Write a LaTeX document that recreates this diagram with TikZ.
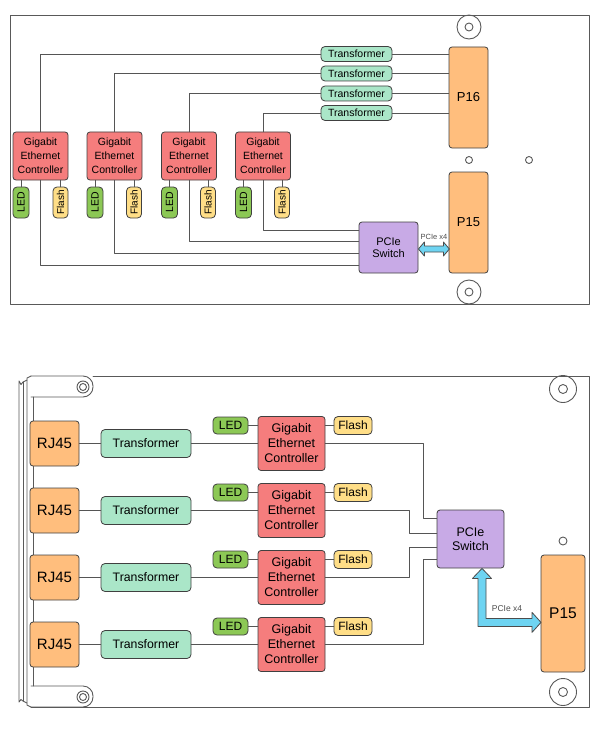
\documentclass[tikz,border=0pt]{standalone}
\usepackage{fontspec}
\setmainfont{Liberation Sans}
\definecolor{ctrlred}{RGB}{245,125,125}
\definecolor{ledgreen}{RGB}{140,200,85}
\definecolor{flashyellow}{RGB}{255,222,135}
\definecolor{trafogreen}{RGB}{170,230,200}
\definecolor{connorange}{RGB}{255,190,125}
\definecolor{switchpurple}{RGB}{200,170,230}
\definecolor{pciecyan}{RGB}{110,212,242}
\definecolor{wiregrey}{RGB}{85,85,85}
\begin{document}
\begin{tikzpicture}[x=1pt,y=-1pt,line join=round, line cap=round,
	wire/.style={draw=wiregrey, line width=0.9pt},
	board/.style={draw=black!65, line width=0.9pt},
	box/.style={draw=black!75, line width=0.8pt, rounded corners=3pt, align=center, inner sep=0pt},
	ctrl/.style={box, fill=ctrlred, minimum width=55pt, minimum height=48pt, font=\fontsize{10.5}{14}\selectfont},
	ctrlb/.style={box, fill=ctrlred, minimum width=67pt, minimum height=54pt, font=\fontsize{12.5}{15}\selectfont},
	led/.style={box, fill=ledgreen, rounded corners=4pt},
	flash/.style={box, fill=flashyellow, rounded corners=4pt},
	trafo/.style={box, fill=trafogreen, rounded corners=4pt},
	conn/.style={box, fill=connorange},
	switch/.style={box, fill=switchpurple},
	pcie/.style={draw=black!70, fill=pciecyan, line width=0.8pt},
	lbl/.style={text=black!70, inner sep=0pt}]
	\useasboundingbox (0,0) rectangle (605,749);
	% upper board
	\draw[board] (10,15) rectangle (589,304);
	\draw[board] (469,27) circle (12pt) (469,27) circle (4pt);
	\draw[board] (469,292) circle (12pt) (469,292) circle (4pt);
	\draw[board] (469,160) circle (3.5pt);
	\draw[board] (529,160) circle (3.5pt);
	\node[conn, minimum width=39pt, minimum height=101pt, font=\fontsize{13}{15}\selectfont] (PA) at (468.5,97.5) {P16};
	\node[conn, minimum width=39pt, minimum height=101pt, font=\fontsize{13}{15}\selectfont] (PB) at (468.5,222.5) {P15};
	\node[switch, minimum width=59pt, minimum height=51pt, font=\fontsize{11}{12}\selectfont] (SW) at (388.5,247.5) {PCIe\\Switch};
	\node[trafo, minimum width=71pt, minimum height=15pt, font=\fontsize{10.5}{12}\selectfont] (T1) at (356.5,54) {Transformer};
	\node[trafo, minimum width=71pt, minimum height=15pt, font=\fontsize{10.5}{12}\selectfont] (T2) at (356.5,73.5) {Transformer};
	\node[trafo, minimum width=71pt, minimum height=15pt, font=\fontsize{10.5}{12}\selectfont] (T3) at (356.5,93.5) {Transformer};
	\node[trafo, minimum width=71pt, minimum height=15pt, font=\fontsize{10.5}{12}\selectfont] (T4) at (356.5,113) {Transformer};
	\node[ctrl] (C1) at (40.5,156) {Gigabit\\Ethernet\\Controller};
	\node[ctrl] (C2) at (114.5,156) {Gigabit\\Ethernet\\Controller};
	\node[ctrl] (C3) at (189,156) {Gigabit\\Ethernet\\Controller};
	\node[ctrl] (C4) at (263,156) {Gigabit\\Ethernet\\Controller};
	\node[led, minimum width=16pt, minimum height=31pt, font=\fontsize{10.5}{12}\selectfont] (L1) at (21,202.5) {\rotatebox{90}{LED}};
	\node[led, minimum width=16pt, minimum height=31pt, font=\fontsize{10.5}{12}\selectfont] (L2) at (95,202.5) {\rotatebox{90}{LED}};
	\node[led, minimum width=16pt, minimum height=31pt, font=\fontsize{10.5}{12}\selectfont] (L3) at (169.5,202.5) {\rotatebox{90}{LED}};
	\node[led, minimum width=16pt, minimum height=31pt, font=\fontsize{10.5}{12}\selectfont] (L4) at (243.5,202.5) {\rotatebox{90}{LED}};
	\node[flash, minimum width=15pt, minimum height=31pt, font=\fontsize{10}{12}\selectfont] (F1) at (60.5,202.5) {\rotatebox{90}{Flash}};
	\node[flash, minimum width=15pt, minimum height=31pt, font=\fontsize{10}{12}\selectfont] (F2) at (134,202.5) {\rotatebox{90}{Flash}};
	\node[flash, minimum width=15pt, minimum height=31pt, font=\fontsize{10}{12}\selectfont] (F3) at (208,202.5) {\rotatebox{90}{Flash}};
	\node[flash, minimum width=15pt, minimum height=31pt, font=\fontsize{10}{12}\selectfont] (F4) at (282,202.5) {\rotatebox{90}{Flash}};
	\draw[wire] (C1.north) |- (T1.west);
	\draw[wire] (C2.north) |- (T2.west);
	\draw[wire] (C3.north) |- (T3.west);
	\draw[wire] (C4.north) |- (T4.west);
	\draw[wire] (T1.east) -- (T1.east -| PA.west);
	\draw[wire] (T2.east) -- (T2.east -| PA.west);
	\draw[wire] (T3.east) -- (T3.east -| PA.west);
	\draw[wire] (T4.east) -- (T4.east -| PA.west);
	\draw[wire] (L1.north) -- (L1.north |- C1.south);
	\draw[wire] (L2.north) -- (L2.north |- C2.south);
	\draw[wire] (L3.north) -- (L3.north |- C3.south);
	\draw[wire] (L4.north) -- (L4.north |- C4.south);
	\draw[wire] (F1.north) -- (F1.north |- C1.south);
	\draw[wire] (F2.north) -- (F2.north |- C2.south);
	\draw[wire] (F3.north) -- (F3.north |- C3.south);
	\draw[wire] (F4.north) -- (F4.north |- C4.south);
	\draw[wire] (C1.south) |- ([yshift=-17.5pt]SW.west);
	\draw[wire] (C2.south) |- ([yshift=-5.5pt]SW.west);
	\draw[wire] (C3.south) |- ([yshift=6.5pt]SW.west);
	\draw[wire] (C4.south) |- ([yshift=17.5pt]SW.west);
	\draw[pcie] ([yshift=-1.5pt]SW.east) -- ++(6,-7) -- ++(0,4) -- ++(19,0) -- ++(0,-4) -- ++(6,7) -- ++(-6,7) -- ++(0,-4) -- ++(-19,0) -- ++(0,4) -- cycle;
	\node[lbl, font=\fontsize{7.5}{9}\selectfont] (X4a) at (434,237) {PCIe x4};
	% lower board
	\draw[board] (93,376) -- (589,376) -- (589,707) -- (31,707);
	\draw[board, rounded corners=10pt] (31,376) -- (93,376) -- (93,397) -- (31,397);
	\draw[board, rounded corners=10pt] (31,686) -- (93,686) -- (93,707) -- (31,707);
	\draw[board] (33,397) -- (33,686);
	\draw[board] (31,376) -- (27,378) -- (27,705) -- (31,707);
	\draw[board] (27,380) -- (23,382) -- (21,384.5) -- (19,381) -- (19,702) -- (21,699.5) -- (23,701) -- (27,703);
	\draw[board] (23,382) -- (23,701);
	\draw[board] (83,387) circle (6pt) (83,387) circle (3.5pt);
	\draw[board] (83,697) circle (6pt) (83,697) circle (3.5pt);
	\draw[board] (563,389) circle (13.5pt) (563,389) circle (4.5pt);
	\draw[board] (563,692) circle (13.5pt) (563,692) circle (4.5pt);
	\draw[board] (563,541) circle (4pt);
	\node[conn, minimum width=44pt, minimum height=117pt, font=\fontsize{15.5}{18}\selectfont] (PC) at (563,613.5) {P15};
	\node[switch, minimum width=67pt, minimum height=58pt, font=\fontsize{12.5}{14}\selectfont] (SWb) at (470.5,539) {PCIe\\Switch};
	\node[conn, minimum width=49pt, minimum height=45pt, font=\fontsize{15}{18}\selectfont] (J1) at (54.5,443.5) {RJ45};
	\node[conn, minimum width=49pt, minimum height=45pt, font=\fontsize{15}{18}\selectfont] (J2) at (54.5,510.5) {RJ45};
	\node[conn, minimum width=49pt, minimum height=45pt, font=\fontsize{15}{18}\selectfont] (J3) at (54.5,577.5) {RJ45};
	\node[conn, minimum width=49pt, minimum height=45pt, font=\fontsize{15}{18}\selectfont] (J4) at (54.5,644.5) {RJ45};
	\node[trafo, minimum width=90pt, minimum height=28pt, font=\fontsize{12.3}{14}\selectfont] (X1) at (146,443.5) {Transformer};
	\node[trafo, minimum width=90pt, minimum height=28pt, font=\fontsize{12.3}{14}\selectfont] (X2) at (146,510.5) {Transformer};
	\node[trafo, minimum width=90pt, minimum height=28pt, font=\fontsize{12.3}{14}\selectfont] (X3) at (146,577.5) {Transformer};
	\node[trafo, minimum width=90pt, minimum height=28pt, font=\fontsize{12.3}{14}\selectfont] (X4) at (146,644.5) {Transformer};
	\node[ctrlb] (G1) at (291.5,443.5) {Gigabit\\Ethernet\\Controller};
	\node[ctrlb] (G2) at (291.5,510.5) {Gigabit\\Ethernet\\Controller};
	\node[ctrlb] (G3) at (291.5,577.5) {Gigabit\\Ethernet\\Controller};
	\node[ctrlb] (G4) at (291.5,644.5) {Gigabit\\Ethernet\\Controller};
	\node[led, minimum width=35pt, minimum height=17pt, font=\fontsize{12}{14}\selectfont] (E1) at (230.5,425.5) {LED};
	\node[led, minimum width=35pt, minimum height=17pt, font=\fontsize{12}{14}\selectfont] (E2) at (230.5,492.5) {LED};
	\node[led, minimum width=35pt, minimum height=17pt, font=\fontsize{12}{14}\selectfont] (E3) at (230.5,559.5) {LED};
	\node[led, minimum width=35pt, minimum height=17pt, font=\fontsize{12}{14}\selectfont] (E4) at (230.5,626.5) {LED};
	\node[flash, minimum width=38pt, minimum height=18pt, font=\fontsize{12}{14}\selectfont] (H1) at (353,425.5) {Flash};
	\node[flash, minimum width=38pt, minimum height=18pt, font=\fontsize{12}{14}\selectfont] (H2) at (353,492.5) {Flash};
	\node[flash, minimum width=38pt, minimum height=18pt, font=\fontsize{12}{14}\selectfont] (H3) at (353,559.5) {Flash};
	\node[flash, minimum width=38pt, minimum height=18pt, font=\fontsize{12}{14}\selectfont] (H4) at (353,626.5) {Flash};
	\draw[wire] (J1.east) -- (X1.west);
	\draw[wire] (J2.east) -- (X2.west);
	\draw[wire] (J3.east) -- (X3.west);
	\draw[wire] (J4.east) -- (X4.west);
	\draw[wire] (X1.east) -- (G1.west);
	\draw[wire] (X2.east) -- (G2.west);
	\draw[wire] (X3.east) -- (G3.west);
	\draw[wire] (X4.east) -- (G4.west);
	\draw[wire] (E1.east) -- (E1.east -| G1.west);
	\draw[wire] (E2.east) -- (E2.east -| G2.west);
	\draw[wire] (E3.east) -- (E3.east -| G3.west);
	\draw[wire] (E4.east) -- (E4.east -| G4.west);
	\draw[wire] (H1.west) -- (H1.west -| G1.east);
	\draw[wire] (H2.west) -- (H2.west -| G2.east);
	\draw[wire] (H3.west) -- (H3.west -| G3.east);
	\draw[wire] (H4.west) -- (H4.west -| G4.east);
	\draw[wire] (G1.east) -| ([xshift=-13pt,yshift=21pt]SWb.west) -- ([yshift=21pt]SWb.west);
	\draw[wire] (G2.east) -| ([xshift=-27pt,yshift=6pt]SWb.west) -- ([yshift=6pt]SWb.west);
	\draw[wire] (G3.east) -| ([xshift=-27pt,yshift=-8pt]SWb.west) -- ([yshift=-8pt]SWb.west);
	\draw[wire] (G4.east) -| ([xshift=-13pt,yshift=-20pt]SWb.west) -- ([yshift=-20pt]SWb.west);
	\draw[pcie] ([xshift=11.5pt]SWb.south) -- ++(9.5,10) -- ++(-5.5,0) -- ++(0,40) -- ++(46,0) -- ++(0,-6) -- ++(9,10) -- ++(-9,10) -- ++(0,-6) -- ++(-54,0) -- ++(0,-48) -- ++(-5.5,0) -- cycle;
	\node[lbl, font=\fontsize{8.5}{10}\selectfont] (X4b) at (507,609) {PCIe x4};
\end{tikzpicture}
\end{document}
